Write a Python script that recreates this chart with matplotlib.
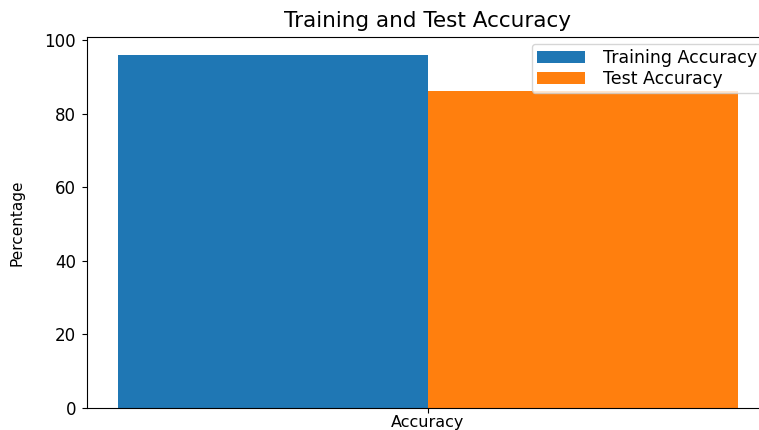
import matplotlib
matplotlib.use("Agg")
import matplotlib.pyplot as plt
import numpy as np

categories = ["Accuracy"]
series_names = ["Training Accuracy", "Test Accuracy"]
training_acc = [96.0]
test_acc = [86.0]

fig = plt.figure(figsize=(7.59, 4.30), dpi=100)
ax = fig.add_axes([87/759, 1-408/430, (769-87)/759, (408-37)/430])

x = np.arange(len(categories))
w = 0.35
ax.bar(x - w/2, training_acc, w, label=series_names[0], color="#1f77b4")
ax.bar(x + w/2, test_acc, w, label=series_names[1], color="#ff7f0e")
ax.set_xticks(x)
ax.set_xticklabels(categories, fontsize=11.5)
ax.tick_params(axis="y", labelsize=12, pad=4.5)
ax.tick_params(axis="x", pad=1.5)
ax.set_ylabel("Percentage", fontsize=11)
ax.yaxis.set_label_coords(-0.091, 0.5)
ax.set_title("Training and Test Accuracy", fontsize=15.5, pad=7)
ax.legend(fontsize=12.5, loc="upper right", handlelength=2.8, handletextpad=1.0,
          borderpad=0.3, labelspacing=0.15, borderaxespad=0.4)

fig.savefig("out.png", dpi=100)
